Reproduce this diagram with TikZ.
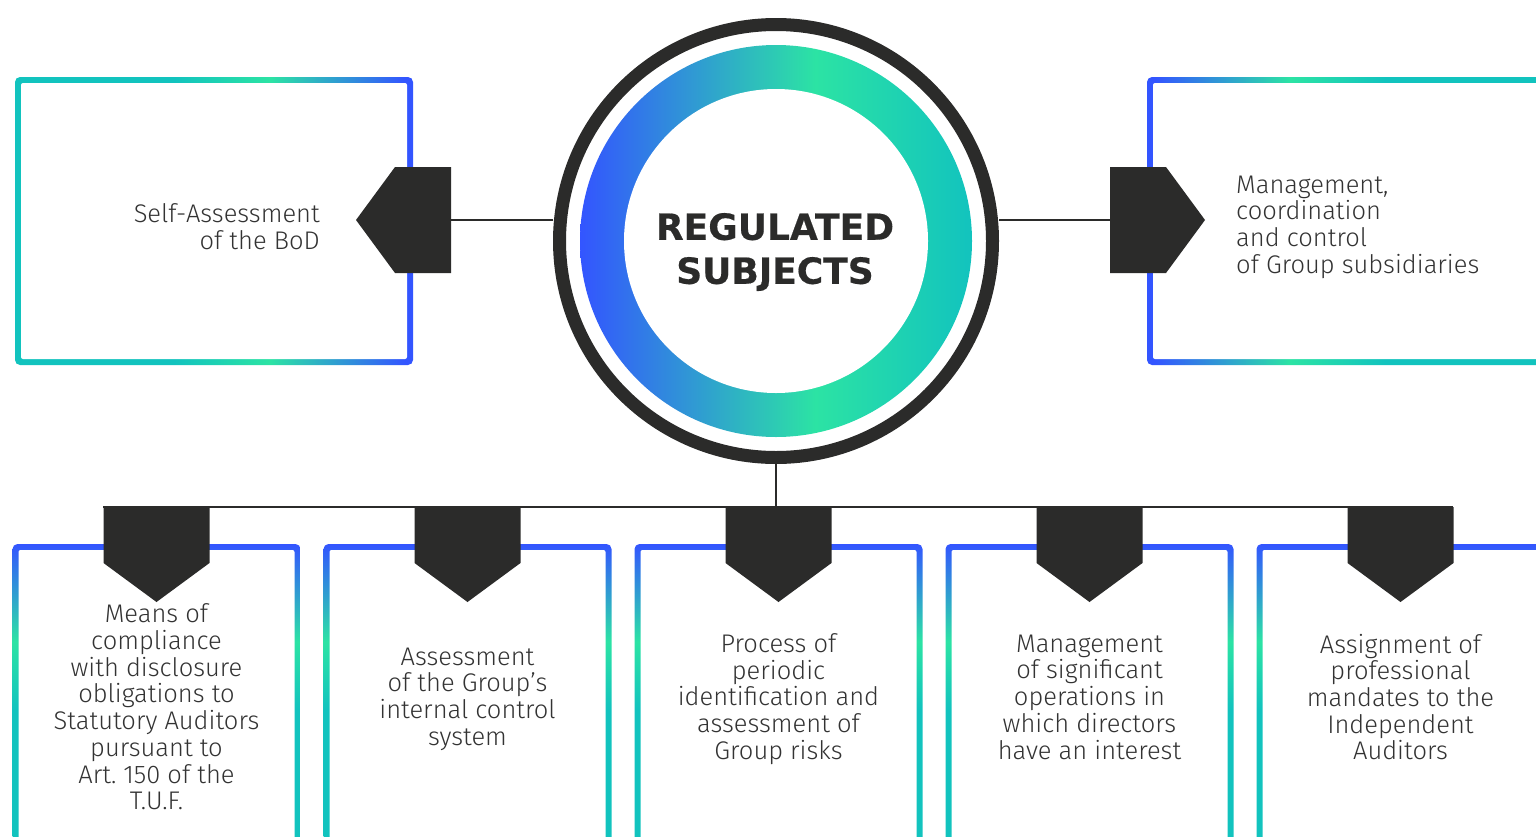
\documentclass[tikz,border=0pt]{standalone}
\usepackage{fontspec}
\newfontfamily\bodyfont{Fira Sans Light}
\newfontfamily\headfont{DejaVu Sans Bold}[FakeBold=0.5]
\usepackage{xcolor}
\definecolor{cInk}{HTML}{2B2B2A}
\definecolor{cText}{HTML}{333333}
\definecolor{cBlue}{HTML}{3355FF}
\definecolor{cGreen}{HTML}{2CE3A4}
\definecolor{cTeal}{HTML}{12C3BE}
\usepackage{tikz}
\usetikzlibrary{positioning,calc}
% colour runs of the framed boxes and of the ring
\pgfdeclarehorizontalshading{grad-left}{100bp}{color(0bp)=(cTeal); color(45bp)=(cTeal);
  color(57bp)=(cGreen); color(74bp)=(cBlue); color(100bp)=(cBlue)}
\pgfdeclarehorizontalshading{grad-right}{100bp}{color(0bp)=(cBlue); color(26bp)=(cBlue);
  color(43bp)=(cGreen); color(55bp)=(cTeal); color(100bp)=(cTeal)}
\pgfdeclarehorizontalshading{grad-ring}{100bp}{color(0bp)=(cBlue); color(25bp)=(cBlue);
  color(55bp)=(cGreen); color(75bp)=(cTeal); color(100bp)=(cTeal)}
\pgfdeclareverticalshading{grad-down}{100bp}{color(0bp)=(cTeal); color(48bp)=(cTeal);
  color(59bp)=(cGreen); color(75bp)=(cBlue); color(100bp)=(cBlue)}
\tikzset{
  line-link/.style={draw=cInk,line width=2.5pt},
  tab-fill/.style={fill=cInk},
  box-inner/.style={fill=white,rounded corners=2pt},
  node-text/.style={text=cText,inner sep=0pt,font=\bodyfont\fontsize{25.5}{26.7}\selectfont},
  node-head/.style={text=cInk,inner sep=0pt,align=center,font=\headfont\fontsize{36}{44}\selectfont},
}

\begin{document}
\begin{tikzpicture}[x=1pt,y=-1pt]
  \useasboundingbox (0,0) rectangle (1536,836);
  \clip (0,0) rectangle (1536,836);

  % side boxes
  \shade[shading=grad-left,rounded corners=5pt] (15,77) rectangle (413,365);
  \fill[box-inner] (21,83) rectangle (407,359);
  \shade[shading=grad-right,rounded corners=5pt] (1147,77) rectangle (1545,365);
  \fill[box-inner] (1153,83) rectangle (1539,359);

  % hub
  \node[circle,draw=cInk,line width=13pt,minimum size=433pt,inner sep=0pt] (hub) at (776,241) {};
  \shade[shading=grad-ring] (hub.center) circle (196pt);
  \fill[white] (hub.center) circle (152pt);
  \node[node-head] (hub-title) at (775,252) {REGULATED\\SUBJECTS};

  % side tabs
  \fill[tab-fill] (451,167) -- (395,167) -- (356,220) -- (395,273) -- (451,273) -- cycle;
  \fill[tab-fill] (1110,167) -- (1166,167) -- (1205,220) -- (1166,273) -- (1110,273) -- cycle;
  \coordinate (tab-l) at (451,220);
  \coordinate (tab-r) at (1110,220);
  \draw[line-link] (tab-l) -- (tab-l -| hub.west);
  \draw[line-link] (tab-r) -- (tab-r -| hub.east);

  \node[node-text,align=right,anchor=east] (self-bod) at (320,227) {Self-Assessment\\of the BoD};
  \node[node-text,align=left,anchor=west] (group-ctrl) at (1236,227)
    {Management,\\coordination\\and control\\of Group subsidiaries};

  % lower boxes and their tabs
  \foreach \x [count=\i] in {156.5,467.5,778.5,1089.5,1400.5} {
    \shade[shading=grad-down,rounded corners=5pt] (\x-144,544) rectangle (\x+144,850);
    \fill[box-inner] (\x-138,550) rectangle (\x+138,844);
    \fill[tab-fill] (\x-53,507) -- (\x+53,507) -- (\x+53,563) -- (\x,602) -- (\x-53,563) -- cycle;
  }
  \coordinate (bus-w) at (103,507);
  \coordinate (bus-e) at (1453,507);
  \draw[line-link] (bus-w) -- (bus-e);
  \draw[line-link] (hub.south) -- (hub.south |- bus-w);

  \node[node-text,align=center] (sub-1) at (156.5,707)
    {Means of\\compliance\\with disclosure\\obligations to\\Statutory Auditors\\pursuant to\\Art.~150 of the\\T.U.F.};
  \node[node-text,align=center] (sub-2) at (467.5,699)
    {Assessment\\of the Group’s\\internal control\\system};
  \node[node-text,align=center] (sub-3) at (778.5,699)
    {Process of\\periodic\\identification and\\assessment of\\Group risks};
  \node[node-text,align=center] (sub-4) at (1089.5,697)
    {Management\\of significant\\operations in\\which directors\\have an interest};
  \node[node-text,align=center] (sub-5) at (1400.5,697)
    {Assignment of\\professional\\mandates to the\\Independent\\Auditors};
\end{tikzpicture}
\end{document}
